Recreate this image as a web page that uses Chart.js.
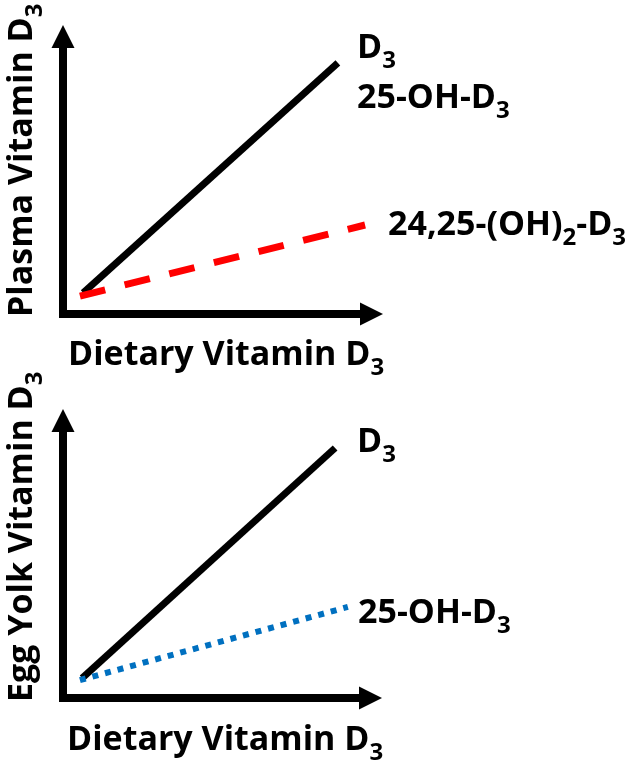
<!DOCTYPE html>
<html>
<head>
<meta charset="utf-8">
<script src="https://cdn.jsdelivr.net/npm/chart.js@4"></script>
<style>
  html, body { margin: 0; padding: 0; background: #fff; }
  #wrap { position: relative; width: 644px; height: 761px; overflow: hidden; }
  canvas { position: absolute; left: 0; }
</style>
</head>
<body>
<div id="wrap">
  <canvas id="plasmaChart" width="644" height="380" style="top:0"></canvas>
  <canvas id="yolkChart" width="644" height="411" style="top:350px"></canvas>
</div>
<script>
// schematic values (axis 0..10, no units)
const plasmaD3X = [0.63, 8.59];
const plasmaD3Y = [0.73, 8.69];
const plasmaDiOHX = [0.53, 9.44];
const plasmaDiOHY = [0.62, 3.08];

const yolkD3X = [0.60, 8.53];
const yolkD3Y = [0.69, 8.65];
const yolk25OHX = [0.53, 8.93];
const yolk25OHY = [0.62, 3.15];

const FONT = '"Open Sans", sans-serif';
const MAIN = 34;
const SUB = 24;

function toPoints(xs, ys) {
    return xs.map((x, i) => ({ x: x, y: ys[i] }));
}

// text as [string, isSubscript] pieces
function drawRich(ctx, parts, x, y) {
    ctx.textBaseline = 'alphabetic';
    ctx.textAlign = 'left';
    ctx.fillStyle = '#000';
    parts.forEach(p => {
        ctx.font = 'bold ' + (p[1] ? SUB : MAIN) + 'px ' + FONT;
        ctx.fillText(p[0], x, y + (p[1] ? 10 : 0));
        x += ctx.measureText(p[0]).width;
    });
}

const axesPlugin = {
    id: 'axesArrows',
    afterDraw(chart, args, opts) {
        const ctx = chart.ctx;
        const a = chart.chartArea;
        const lw = 8, head = 23, half = 11.5;
        ctx.save();
        ctx.fillStyle = '#000';
        // y axis + arrow
        ctx.fillRect(a.left - lw / 2, a.top + head - 1, lw, a.bottom - a.top - head + 1 + lw / 2);
        ctx.beginPath();
        ctx.moveTo(a.left, a.top);
        ctx.lineTo(a.left - half, a.top + head);
        ctx.lineTo(a.left + half, a.top + head);
        ctx.closePath();
        ctx.fill();
        // x axis + arrow
        ctx.fillRect(a.left - lw / 2, a.bottom - lw / 2, a.right - a.left - head + lw / 2 + 1, lw);
        ctx.beginPath();
        ctx.moveTo(a.right, a.bottom);
        ctx.lineTo(a.right - head, a.bottom - half);
        ctx.lineTo(a.right - head, a.bottom + half);
        ctx.closePath();
        ctx.fill();

        // axis titles
        drawRich(ctx, [['Dietary Vitamin D', false], ['3', true]], opts.xTitle[0], opts.xTitle[1]);
        ctx.save();
        ctx.translate(opts.yTitle[1], opts.yTitle[2]);
        ctx.rotate(-Math.PI / 2);
        drawRich(ctx, opts.yTitle[0], 0, 0);
        ctx.restore();

        // line labels
        opts.labels.forEach(l => drawRich(ctx, l.parts, l.x, l.y));
        ctx.restore();
    }
};

function makeChart(id, datasets, pad, deco) {
    return new Chart(document.getElementById(id), {
        type: 'line',
        data: { datasets: datasets },
        options: {
            responsive: false,
            animation: false,
            devicePixelRatio: 1,
            layout: { padding: pad },
            scales: {
                x: { type: 'linear', min: 0, max: 10, display: false },
                y: { type: 'linear', min: 0, max: 10, display: false }
            },
            plugins: {
                legend: { display: false },
                tooltip: { enabled: false },
                axesArrows: deco
            },
            elements: { point: { radius: 0 } }
        },
        plugins: [axesPlugin]
    });
}

makeChart('plasmaChart', [
    {
        label: '24,25-(OH)2-D3',
        data: toPoints(plasmaDiOHX, plasmaDiOHY),
        borderColor: '#ff0000',
        borderWidth: 7,
        borderDash: [26, 20],
        borderCapStyle: 'butt',
        order: 0
    },
    {
        label: 'D3 / 25-OH-D3',
        data: toPoints(plasmaD3X, plasmaD3Y),
        borderColor: '#000000',
        borderWidth: 7,
        borderCapStyle: 'butt',
        order: 1
    }
], { left: 63, right: 644 - 383, top: 25, bottom: 380 - 314 }, {
    xTitle: [68, 365],
    yTitle: [[['Plasma Vitamin D', false], ['3', true]], 32, 317],
    labels: [
        { parts: [['D', false], ['3', true]], x: 357, y: 58 },
        { parts: [['25-OH-D', false], ['3', true]], x: 357, y: 108 },
        { parts: [['24,25-(OH)', false], ['2', true], ['-D', false], ['3', true]], x: 388, y: 235 }
    ]
});

// bottom panel canvas starts at page y=350, so its own y = page y - 350
makeChart('yolkChart', [
    {
        label: '25-OH-D3',
        data: toPoints(yolk25OHX, yolk25OHY),
        borderColor: '#0070c0',
        borderWidth: 6,
        borderDash: [6, 7],
        borderCapStyle: 'butt',
        order: 0
    },
    {
        label: 'D3',
        data: toPoints(yolkD3X, yolkD3Y),
        borderColor: '#000000',
        borderWidth: 7,
        borderCapStyle: 'butt',
        order: 1
    }
], { left: 63, right: 644 - 382, top: 59, bottom: 411 - 348 }, {
    xTitle: [67, 400],
    yTitle: [[['Egg Yolk Vitamin D', false], ['3', true]], 32, 352],
    labels: [
        { parts: [['D', false], ['3', true]], x: 357, y: 102 },
        { parts: [['25-OH-D', false], ['3', true]], x: 358, y: 273 }
    ]
});
</script>
</body>
</html>
